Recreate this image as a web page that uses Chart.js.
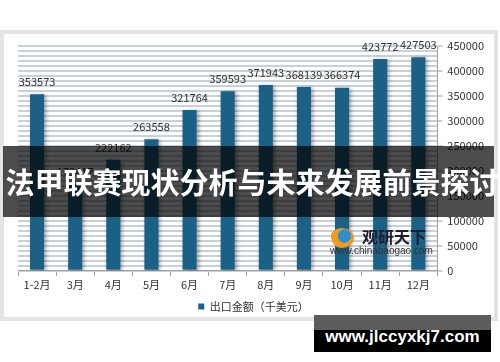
<!DOCTYPE html>
<html>
<head>
<meta charset="utf-8">
<script src="https://cdn.jsdelivr.net/npm/chart.js"></script>
<style>
  body { margin: 0; background: #fff; font-family: "Noto Sans CJK SC", sans-serif; }
  .stage { position: relative; width: 500px; height: 362px; overflow: hidden; }
  .card {
    position: absolute; left: 0; top: 30px; width: 498px; height: 291px;
    box-sizing: border-box; border: 4px solid #e4e4e4; background: #fff;
  }
  #myChart { position: absolute; left: 0; top: 0; }
  .banner {
    position: absolute; left: 3px; top: 146px; width: 491px; height: 71px;
    background: rgba(0, 0, 0, 0.7);
  }
  .banner span {
    position: absolute; left: 0; width: 500px; top: 15px; margin-left: -1px;
    color: #fff; font-weight: bold; font-size: 29px; line-height: 40px;
    text-align: center; white-space: nowrap;
  }
  .logo { position: absolute; left: 330px; top: 226px; width: 110px; height: 30px; white-space: nowrap; }
  .logo .icon {
    position: absolute; left: 0; top: 2px; width: 24px; height: 20px; border-radius: 50%;
    background: radial-gradient(circle at 60% 40%, #2c8fd0 0 35%, #f29a1f 36% 70%, transparent 71%);
  }
  .logo .name {
    position: absolute; left: 32px; top: 0; font-size: 16px; font-weight: bold;
    color: #1d1d2b; line-height: 20px;
  }
  .logo .url {
    position: absolute; left: 0; top: 19px; font-family: "Liberation Sans", sans-serif;
    font-size: 10px; color: #333; line-height: 12px;
  }
  .mark {
    position: absolute; left: 314px; top: 315px; width: 177px; height: 37px;
    background: linear-gradient(#5c5c5c 0 15px, #000 15px);
  }
  .mark span {
    position: absolute; left: 0; width: 177px; top: 12px; text-align: center;
    color: #fff; font-family: "Liberation Sans", sans-serif; font-weight: bold;
    font-size: 17px; line-height: 20px;
  }
</style>
</head>
<body>
<div class="stage">
  <div class="card"></div>
  <canvas id="myChart" width="500" height="362"></canvas>
  <div class="logo">
    <div class="icon"></div>
    <div class="name">观研天下</div>
    <div class="url">www.chinabaogao.com</div>
  </div>
  <div class="banner"><span>法甲联赛现状分析与未来发展前景探讨</span></div>
  <div class="mark"><span>www.jlccyxkj7.com</span></div>
</div>
<script>
"use strict";

const months = ["1-2月", "3月", "4月", "5月", "6月", "7月", "8月", "9月", "10月", "11月", "12月"];
const exportValues = [353573, 173417, 222162, 263558, 321764, 359593, 371943, 368139, 366374, 423772, 427503];
const seriesName = "出口金额（千美元）";
const yMax = 450000;
const yLabelStep = 50000;

const barColor = "#1b6185";
const textColor = "#333";
const cjkFont = '"Noto Sans CJK SC", sans-serif';

// values written above each bar
const barLabels = {
    id: 'barLabels',
    afterDatasetsDraw(chart) {
        const ctx = chart.ctx;
        const meta = chart.getDatasetMeta(0);
        ctx.save();
        ctx.font = '11px ' + cjkFont;
        ctx.fillStyle = textColor;
        ctx.textAlign = 'center';
        ctx.textBaseline = 'bottom';
        meta.data.forEach((bar, i) => {
            ctx.fillText(String(exportValues[i]), bar.x, bar.y - 7);
        });
        ctx.restore();
    }
};

// soft shadow behind the bars
const barShadow = {
    id: 'barShadow',
    beforeDatasetDraw(chart) {
        const ctx = chart.ctx;
        ctx.save();
        ctx.shadowColor = 'rgba(0,0,0,0.35)';
        ctx.shadowBlur = 4;
        ctx.shadowOffsetX = 2;
        ctx.shadowOffsetY = 1;
    },
    afterDatasetDraw(chart) {
        chart.ctx.restore();
    }
};

new Chart("myChart", {
    type: 'bar',
    data: {
        labels: months,
        datasets: [{
            label: seriesName,
            data: exportValues,
            backgroundColor: barColor,
            barPercentage: 0.37,
            categoryPercentage: 1
        }]
    },
    options: {
        responsive: false,
        animation: false,
        layout: { padding: { left: 18, top: 46, right: 11, bottom: 40 } },
        plugins: {
            tooltip: { enabled: false },
            legend: {
                position: 'bottom',
                labels: {
                    color: textColor,
                    font: { family: cjkFont, size: 11 },
                    boxWidth: 6,
                    boxHeight: 6,
                    padding: 8
                }
            }
        },
        scales: {
            x: {
                grid: {
                    offset: true,
                    drawOnChartArea: false,
                    tickLength: 5,
                    color: '#a0a0a0'
                },
                border: { color: '#a0a0a0' },
                ticks: {
                    color: textColor,
                    font: { family: cjkFont, size: 11 },
                    padding: 2,
                    maxRotation: 0
                }
            },
            y: {
                position: 'right',
                min: 0,
                max: yMax,
                grid: {
                    color: '#c8d0d8',
                    lineWidth: 2,
                    tickLength: 5,
                    tickColor: (c) => (c.tick && c.tick.value % yLabelStep === 0) ? '#a0a0a0' : 'rgba(0,0,0,0)',
                    tickWidth: 1
                },
                border: { color: '#a0a0a0' },
                ticks: {
                    stepSize: 10000,
                    autoSkip: false,
                    color: textColor,
                    font: { family: cjkFont, size: 11 },
                    padding: 5,
                    callback: (v) => v % yLabelStep === 0 ? String(v) : ''
                }
            }
        }
    },
    plugins: [barShadow, barLabels]
});
</script>
</body>
</html>
